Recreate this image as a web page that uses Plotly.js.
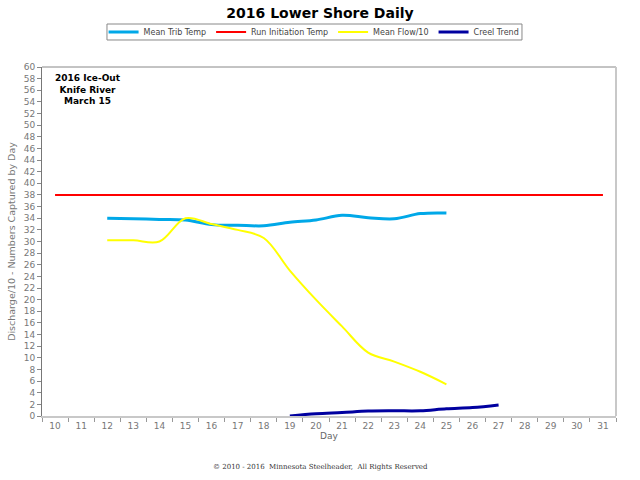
<!DOCTYPE html>
<html><head><meta charset="utf-8">
<script src="https://cdn.plot.ly/plotly-3.0.1.min.js"></script>
<style>html,body{margin:0;padding:0;background:#fff}#chart{width:640px;height:480px}</style>
</head><body><div id="chart"></div>
<script>
const days = ["10","11","12","13","14","15","16","17","18","19","20","21","22","23","24","25","26","27","28","29","30","31"];
const tribDays = ["12","13","14","15","16","17","18","19","20","21","22","23","24","25"];
const tribTemp = [34.0, 33.9, 33.8, 33.7, 32.9, 32.8, 32.7, 33.3, 33.7, 34.5, 34.1, 33.9, 34.8, 34.9];
const runTemp = [38,38,38,38,38,38,38,38,38,38,38,38,38,38,38,38,38,38,38,38,38,38];
const flowDays = ["12","13","14","15","16","17","18","19","20","21","22","23","24","25"];
const meanFlow10 = [30.2, 30.2, 30.0, 34.0, 33.0, 32.0, 30.6, 25.0, 20.0, 15.4, 10.9, 9.35, 7.6, 5.45];
const creelDays = ["19","20","21","22","23","24","25","26","27"];
const creelTrend = [0, 0.4, 0.6, 0.85, 0.9, 0.9, 1.25, 1.45, 1.9];
const yTicks = [];
for (let v = 0; v <= 60; v += 2) yTicks.push(v);

const traces = [
  {x: tribDays, y: tribTemp, name: "Mean Trib Temp", mode: "lines", line: {color: "#00A8E8", width: 3, shape: "spline"}},
  {x: days, y: runTemp, name: "Run Initiation Temp", mode: "lines", line: {color: "#FF0000", width: 2}},
  {x: flowDays, y: meanFlow10, name: "Mean Flow/10", mode: "lines", line: {color: "#FFFF00", width: 2, shape: "spline"}},
  {x: creelDays, y: creelTrend, name: "Creel Trend", mode: "lines", line: {color: "#0000A0", width: 3, shape: "spline"}}
];

const FF = "DejaVu Sans, Verdana, sans-serif";
const tickFont = {family: FF, size: 9, color: "#777"};
const layout = {
  width: 640, height: 480,
  margin: {l: 42, r: 24, t: 67, b: 64},
  paper_bgcolor: "#fff", plot_bgcolor: "#fff",
  font: {family: FF, size: 9, color: "#555"},
  title: {text: "<b>2016 Lower Shore Daily</b>", x: 0.5, xanchor: "center", y: 0.973, yanchor: "middle",
          font: {family: FF, size: 14, color: "#000"}},
  showlegend: true,
  legend: {orientation: "h", x: 0.474, xanchor: "center", y: 1.1003, yanchor: "middle",
           borderwidth: 0, bgcolor: "rgba(0,0,0,0)",
           font: {family: FF, size: 8, color: "#444"},
           itemwidth: 30, tracegroupgap: 0},
  xaxis: {type: "category", categoryorder: "array", categoryarray: days,
          range: [-0.5, 21.5], tickson: "boundaries", ticks: "outside", ticklen: 4,
          tickcolor: "#999", showline: true, linecolor: "#c8c8c8", linewidth: 2,
          showgrid: false, zeroline: false, tickfont: tickFont, mirror: false,
          title: {text: "Day", font: {family: FF, size: 9, color: "#666"}, standoff: 2}},
  yaxis: {range: [0, 60], tickvals: yTicks, ticks: "outside", ticklen: 4, tickcolor: "#888",
          showline: true, linecolor: "#777", linewidth: 1, showgrid: false, zeroline: false,
          tickfont: tickFont, fixedrange: true,
          title: {text: "Discharge/10 - Numbers Captured by Day", font: {family: FF, size: 9.5, color: "#777"}, standoff: 6}},
  shapes: [
    {type: "line", xref: "paper", yref: "paper", x0: 0, x1: 1, y0: 1, y1: 1, line: {color: "#888", width: 1}},
    {type: "line", xref: "paper", yref: "paper", x0: 1, x1: 1, y0: 0, y1: 1, line: {color: "#c8c8c8", width: 2}},
    {type: "rect", xref: "paper", yref: "paper", x0: 0.1132, x1: 0.8362, y0: 1.0774, y1: 1.1232,
     line: {color: "#888", width: 1}, fillcolor: "rgba(0,0,0,0)", layer: "below"}
  ],
  annotations: [
    {text: "<b>2016 Ice-Out<br>Knife River<br>March 15</b>", xref: "paper", yref: "paper", x: 0.08, y: 0.9885,
     xanchor: "center", yanchor: "top", showarrow: false, align: "center",
     font: {family: FF, size: 9, color: "#000"}},
    {text: "© 2010 - 2016  Minnesota Steelheader,  All Rights Reserved", xref: "paper", yref: "paper",
     x: 0.485, y: -0.145, xanchor: "center", yanchor: "middle", showarrow: false,
     font: {family: "DejaVu Serif, serif", size: 7, color: "#333"}}
  ]
};
Plotly.newPlot("chart", traces, layout, {displayModeBar: false, staticPlot: true});
</script></body></html>
